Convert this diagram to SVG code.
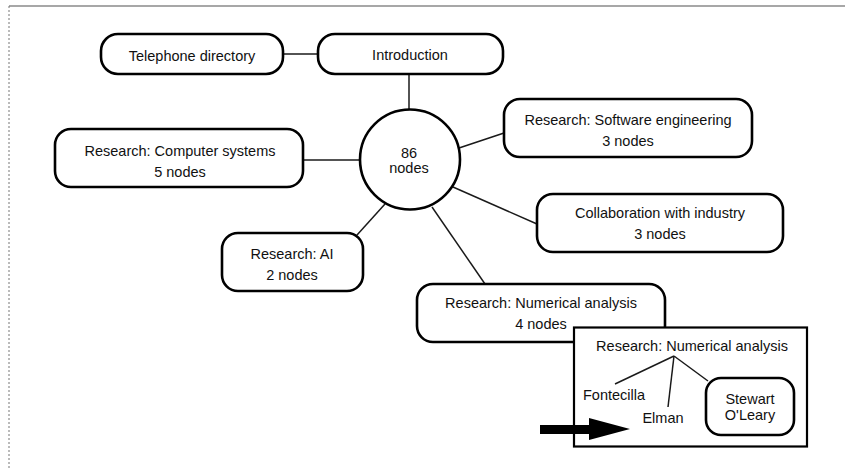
<svg xmlns="http://www.w3.org/2000/svg" width="845" height="468" viewBox="0 0 845 468">
<style>
  .box { fill: #fff; stroke: #000; stroke-width: 2.6; }
  .edge { stroke: #1a1a1a; stroke-width: 1.5; fill: none; }
  text { font-family: "Liberation Sans", Arial, sans-serif; font-size: 14.5px; fill: #111; text-anchor: middle; }
</style>
<rect x="0" y="0" width="845" height="468" fill="#fff"/>
<line x1="9" y1="6" x2="845" y2="6" stroke="#8a8a8a" stroke-width="1.6"/>
<line x1="9" y1="6" x2="9" y2="468" stroke="#777" stroke-width="1" stroke-dasharray="2,2"/>
<g id="connectors">
  <line class="edge" x1="283" y1="54" x2="318" y2="54"/>
  <line class="edge" x1="409" y1="74" x2="409" y2="110"/>
  <line class="edge" x1="303" y1="160" x2="360" y2="160"/>
  <line class="edge" x1="357" y1="235" x2="385" y2="204"/>
  <line class="edge" x1="459" y1="148" x2="504" y2="133"/>
  <line class="edge" x1="453" y1="187" x2="537" y2="224"/>
  <line class="edge" x1="432" y1="207" x2="485" y2="284"/>
</g>
<g id="telephone">
  <rect class="box" x="101" y="34" width="182" height="40" rx="17"/>
  <text x="192" y="61">Telephone directory</text>
</g>
<g id="introduction">
  <rect class="box" x="318" y="34" width="185" height="40" rx="17"/>
  <text x="410" y="60">Introduction</text>
</g>
<g id="hub">
  <circle class="box" cx="410" cy="159.5" r="50"/>
  <text x="409" y="158">86</text>
  <text x="409" y="173">nodes</text>
</g>
<g id="computer-systems">
  <rect class="box" x="55" y="129" width="248" height="58" rx="16"/>
  <text x="180" y="156">Research: Computer systems</text>
  <text x="180" y="177">5 nodes</text>
</g>
<g id="ai">
  <rect class="box" x="222" y="233" width="141" height="58" rx="16"/>
  <text x="292" y="259">Research: AI</text>
  <text x="292" y="280">2 nodes</text>
</g>
<g id="software-engineering">
  <rect class="box" x="504" y="99" width="248" height="58" rx="16"/>
  <text x="628" y="125">Research: Software engineering</text>
  <text x="628" y="146">3 nodes</text>
</g>
<g id="collaboration">
  <rect class="box" x="537" y="194" width="246" height="58" rx="16"/>
  <text x="660" y="218">Collaboration with industry</text>
  <text x="660" y="239">3 nodes</text>
</g>
<g id="numerical-analysis">
  <rect class="box" x="417" y="284" width="248" height="58" rx="16"/>
  <text x="541" y="308">Research: Numerical analysis</text>
  <text x="541" y="329">4 nodes</text>
</g>
<g id="inset">
  <rect x="574" y="327.5" width="233" height="119" fill="#fff" stroke="#000" stroke-width="2.2"/>
  <text x="692" y="351">Research: Numerical analysis</text>
  <g id="inset-connectors">
    <line class="edge" x1="674" y1="356" x2="615" y2="384"/>
    <line class="edge" x1="674" y1="356" x2="668" y2="407"/>
    <line class="edge" x1="674" y1="356" x2="708" y2="381"/>
  </g>
  <g id="fontecilla"><text x="614" y="400">Fontecilla</text></g>
  <g id="elman"><text x="663" y="423">Elman</text></g>
  <g id="stewart">
    <rect class="box" x="706" y="378" width="88" height="57" rx="15"/>
    <text x="750" y="404">Stewart</text>
    <text x="750" y="420">O'Leary</text>
  </g>
</g>
<g id="pointer">
  <polygon points="540,425 589,425 589,418 630,429 589,440 589,434 540,434" fill="#000"/>
</g>
</svg>
